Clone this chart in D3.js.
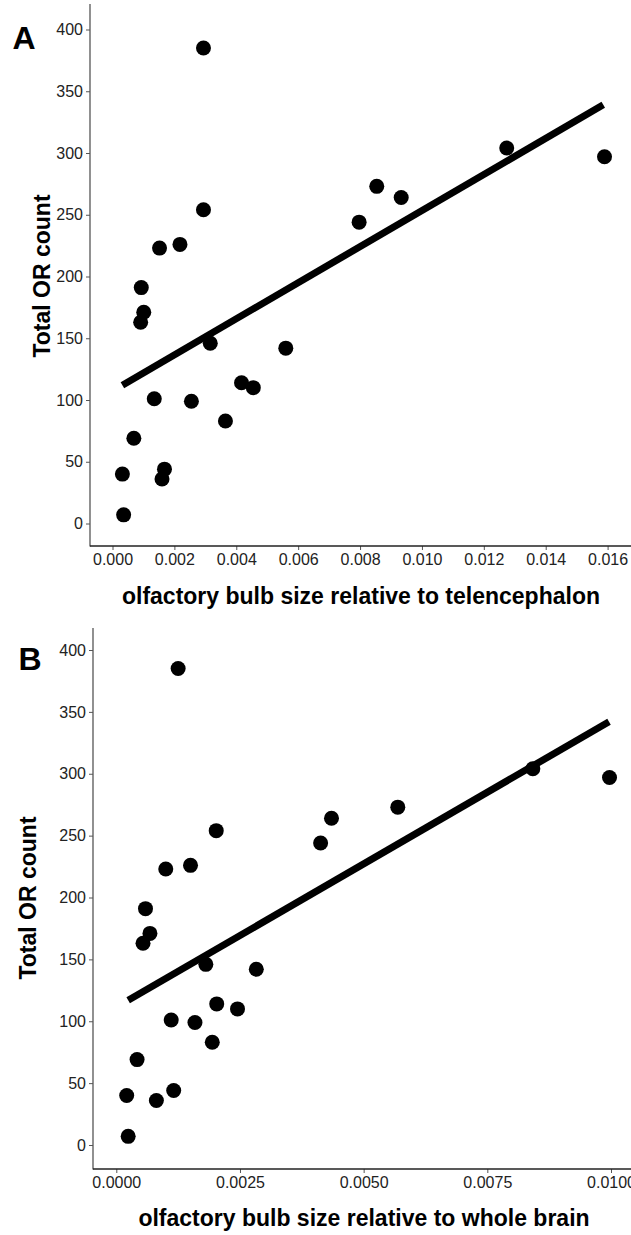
<!DOCTYPE html>
<html lang="en">
<head>
	<meta charset="UTF-8">
	<title>OR count vs olfactory bulb size</title>
	<script src="https://d3js.org/d3.v7.min.js"></script>
	<style>
		body {
			margin: 0;
			background-color: #ffffff;
		}
		svg {
			display: block;
		}
		text {
			font-family: "Liberation Sans", Arial, Helvetica, sans-serif;
		}
		.tick-label {
			font-size: 16px;
			fill: #222;
		}
		.title {
			font-size: 23px;
			font-weight: bold;
			fill: #000;
		}
		.panel-letter {
			font-size: 32px;
			font-weight: bold;
			fill: #000;
		}
		.dot {
			fill: #000;
		}
		.fit {
			stroke: #000;
			stroke-width: 7;
			fill: none;
		}
	</style>
</head>
<body>
<script type="text/javascript">
	// total OR count per species (same species order in both panels)
	var orCount = [385, 304, 297, 273, 264, 244, 254, 223, 226, 191, 171, 163,
		146, 142, 114, 110, 101, 99, 83, 69, 40, 44, 36, 7];

	// olfactory bulb size relative to telencephalon (panel A)
	var bulbTelen = [0.00294, 0.01274, 0.0159, 0.00854, 0.00933, 0.00797, 0.00294, 0.00152,
		0.00218, 0.00093, 0.00101, 0.00091, 0.00316, 0.0056, 0.00417, 0.00455,
		0.00135, 0.00255, 0.00365, 0.00069, 0.00032, 0.00168, 0.0016, 0.00036];

	// olfactory bulb size relative to whole brain (panel B)
	var bulbBrain = [0.00125, 0.00842, 0.00997, 0.00569, 0.00435, 0.00413, 0.00202, 0.00100,
		0.0015, 0.00059, 0.00068, 0.00054, 0.00181, 0.00283, 0.00203, 0.00245,
		0.00111, 0.00159, 0.00194, 0.00042, 0.00021, 0.00116, 0.00081, 0.00024];

	// regression line end points [x, y]
	var fitTelen = [[0.00032, 112], [0.01586, 339]];
	var fitBrain = [[0.00024, 117], [0.00996, 342]];

	var yTicks = [0, 50, 100, 150, 200, 250, 300, 350, 400];
	var xTicksTelen = [0, 0.002, 0.004, 0.006, 0.008, 0.010, 0.012, 0.014, 0.016];
	var xTicksBrain = [0, 0.0025, 0.005, 0.0075, 0.010];

	var W = 631, H = 1235;

	var svg = d3.select('body').append('svg')
		.attr('width', W)
		.attr('height', H);

	function drawPanel(p) {
		var g = svg.append('g');

		var x = d3.scaleLinear()
			.domain([0, p.xTicks[p.xTicks.length - 1]])
			.range([p.x0, p.x1]);
		var y = d3.scaleLinear()
			.domain([0, 400])
			.range([p.y0, p.y400]);

		//---- axes ----//
		var xAxis = d3.axisBottom(x)
			.tickValues(p.xTicks)
			.tickFormat(d3.format(p.fmt))
			.tickSize(4)
			.tickPadding(4);
		var yAxis = d3.axisLeft(y)
			.tickValues(yTicks)
			.tickFormat(d3.format('d'))
			.tickSize(4)
			.tickPadding(3);

		var gx = g.append('g')
			.attr('transform', 'translate(0,' + p.axisY + ')')
			.call(xAxis);
		var gy = g.append('g')
			.attr('transform', 'translate(' + p.axisX + ',0)')
			.call(yAxis);

		gx.select('.domain').remove();
		gy.select('.domain').remove();
		gx.selectAll('.tick line').attr('stroke', '#555');
		gy.selectAll('.tick line').attr('stroke', '#555');
		gx.selectAll('.tick text').attr('class', 'tick-label').attr('font-size', null).attr('font-family', null);
		gy.selectAll('.tick text').attr('class', 'tick-label').attr('font-size', null).attr('font-family', null);

		// axis lines
		g.append('line')
			.attr('x1', p.axisX).attr('x2', p.axisX)
			.attr('y1', p.axisTop).attr('y2', p.axisY + 0.5)
			.attr('stroke', '#555').attr('stroke-width', 1.3);
		g.append('line')
			.attr('x1', p.axisX).attr('x2', W + 10)
			.attr('y1', p.axisY).attr('y2', p.axisY)
			.attr('stroke', '#222').attr('stroke-width', 1.3);

		//---- points ----//
		g.selectAll('.dot')
			.data(p.xs)
			.enter().append('circle')
			.attr('class', 'dot')
			.attr('cx', function (d) { return x(d); })
			.attr('cy', function (d, i) { return y(orCount[i]); })
			.attr('r', 7.5);

		//---- fit line ----//
		g.append('path')
			.datum(p.fit)
			.attr('class', 'fit')
			.attr('d', d3.line()
				.x(function (d) { return x(d[0]); })
				.y(function (d) { return y(d[1]); }));

		//---- titles ----//
		g.append('text')
			.attr('class', 'title')
			.attr('x', p.xTitleX)
			.attr('y', p.xTitleY)
			.attr('text-anchor', 'middle')
			.text(p.xTitle);

		g.append('text')
			.attr('class', 'title')
			.attr('transform', 'translate(' + p.yTitleX + ',' + p.yTitleY + ') rotate(-90)')
			.attr('text-anchor', 'middle')
			.attr('dy', '0.35em')
			.text('Total OR count');

		g.append('text')
			.attr('class', 'panel-letter')
			.attr('x', p.letterX)
			.attr('y', p.letterY)
			.attr('text-anchor', 'middle')
			.text(p.letter);
	}

	drawPanel({
		letter: 'A', letterX: 24, letterY: 49,
		xs: bulbTelen, fit: fitTelen, xTicks: xTicksTelen, fmt: '.3f',
		x0: 112.5, x1: 607.6, y0: 523.5, y400: 29.5,
		axisX: 90, axisY: 546, axisTop: 4,
		xTitle: 'olfactory bulb size relative to telencephalon',
		xTitleX: 361, xTitleY: 604,
		yTitleX: 42, yTitleY: 276
	});

	drawPanel({
		letter: 'B', letterX: 30, letterY: 670,
		xs: bulbBrain, fit: fitBrain, xTicks: xTicksBrain, fmt: '.4f',
		x0: 116.3, x1: 611, y0: 1145, y400: 650,
		axisX: 93, axisY: 1169, axisTop: 628,
		xTitle: 'olfactory bulb size relative to whole brain',
		xTitleX: 364, xTitleY: 1226,
		yTitleX: 28, yTitleY: 898
	});
</script>
</body>
</html>
